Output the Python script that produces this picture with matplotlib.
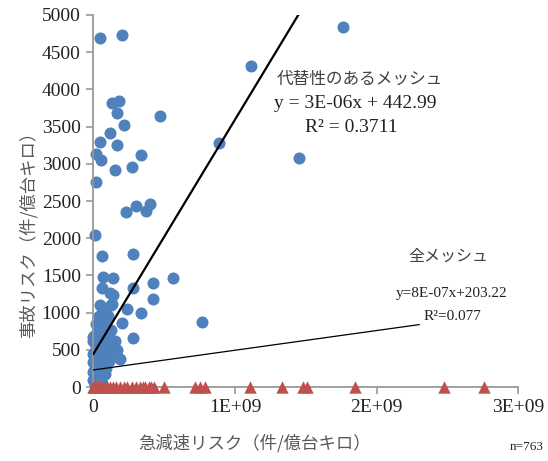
import matplotlib.pyplot as plt
import numpy as np

# blue: meshes with an alternative route (x in units of 1e9)
blue_x = [0.05, 0.20, 1.76, 1.11, 0.89, 1.45, 0.47, 0.134, 0.183, 0.169, 0.219, 0.118,
          0.047, 0.019, 0.054, 0.165, 0.155, 0.275, 0.337, 0.019, 0.23, 0.30, 0.37, 0.40,
          0.01, 0.06, 0.28, 0.07, 0.14, 0.061, 0.118, 0.28, 0.42, 0.56, 0.42, 0.77, 0.34,
          0.28, 0.20, 0.24, 0.14, 0.132, 0.047, 0.07, 0.054, 0.106, 0.125, 0.0, 0.165,
          0.19, 0.148, 0.078, 0.035, 0.07, 0.125,
          0.00, 0.01, 0.02, 0.03, 0.04, 0.05, 0.06, 0.07, 0.08, 0.03, 0.01, 0.04, 0.06,
          0.08, 0.10, 0.11, 0.09, 0.02, 0.05, 0.07, 0.10, 0.12, 0.00, 0.03, 0.06, 0.09,
          0.01, 0.04, 0.07, 0.02, 0.05, 0.08, 0.00, 0.03, 0.06, 0.01, 0.04, 0.09, 0.11,
          0.13, 0.12, 0.09, 0.15, 0.10, 0.06, 0.02, 0.04, 0.08,
          0.00, 0.02, 0.04, 0.06, 0.01, 0.03, 0.05, 0.00, 0.02]
blue_y = [4690, 4730, 4840, 4320, 3283, 3078, 3640, 3813, 3848, 3687, 3522, 3418,
          3297, 3136, 3051, 3248, 2912, 2961, 3118, 2751, 2350, 2430, 2370, 2460,
          2040, 1760, 1790, 1480, 1460, 1326, 1268, 1330, 1400, 1460, 1180, 875, 995,
          654, 856, 1048, 1230, 1115, 1100, 1035, 878, 954, 766, 675, 497,
          372, 475, 430, 699, 766, 1100,
          620, 700, 560, 640, 720, 600, 680, 560, 620, 500, 450, 420, 470,
          500, 540, 600, 430, 380, 350, 390, 420, 470, 330, 300, 280, 330,
          250, 220, 200, 160, 130, 170, 100, 80, 60, 30, 20, 250, 350,
          560, 650, 720, 620, 780, 800, 850, 950, 870,
          450, 520, 300, 180, 140, 420, 240, 200, 60]

# red: meshes without alternative route (all zero accident risk)
red_x = [0.0, 0.005, 0.012, 0.02, 0.03, 0.045, 0.06, 0.083, 0.1, 0.12, 0.14, 0.16,
         0.19, 0.22, 0.24, 0.27, 0.30, 0.33, 0.35, 0.365, 0.39, 0.41, 0.43, 0.50,
         0.72, 0.75, 0.79, 1.106, 1.334, 1.48, 1.51, 1.85, 2.475, 2.755]
red_y = [0] * len(red_x)

xticks = [0, 1e9, 2e9, 3e9]
xtick_labels = ['0', '1E+09', '2E+09', '3E+09']
yticks = list(range(0, 5001, 500))

# trend lines as drawn in the picture
alt_slope, alt_icpt = 3.15e-6, 443
all_slope, all_icpt = 2.65e-7, 229

W, H = 548, 461
fig = plt.figure(figsize=(W / 100, H / 100), dpi=100)
ax = fig.add_axes([93.3 / W, 1 - 387 / H, (518.3 - 93.3) / W, (387 - 15) / H])

bx = np.array(blue_x) * 1e9
ax.scatter(bx, blue_y, s=75, color='#4F81BD', linewidths=0, zorder=2, clip_on=False)
ax.scatter(np.array(red_x) * 1e9, red_y, s=80, marker='^', color='#C0504D',
           linewidths=0, zorder=3, clip_on=False)

lx = np.array([0, bx.max()])
ax.plot(lx, alt_slope * lx + alt_icpt, color='black', lw=1.6, zorder=4)
lx2 = np.array([0, 2.3e9])
ax.plot(lx2, all_slope * lx2 + all_icpt, color='black', lw=0.9, zorder=4)

ax.set_xlim(0, 3e9)
ax.set_ylim(0, 5000)
ax.set_xticks(xticks)
ax.set_xticklabels(xtick_labels)
ax.set_yticks(yticks)
for s in ['top', 'right']:
    ax.spines[s].set_visible(False)
for s in ['left', 'bottom']:
    ax.spines[s].set_color('#999999')
    ax.spines[s].set_linewidth(1.3)
ax.tick_params(direction='out', length=5, width=1.2, color='#999999',
               labelsize=14, labelcolor='#222222', pad=4)
for lab in ax.get_xticklabels() + ax.get_yticklabels():
    lab.set_fontfamily('Liberation Serif')

jp = ['Noto Sans CJK JP', 'DejaVu Sans']
serif = 'Liberation Serif'
fig.text(28 / W, 1 - 230 / H, '事故リスク（件/億台キロ）', rotation=90, ha='center',
         va='center', family=jp, fontsize=12.5, color='#595959')
fig.text(255 / W, 1 - 443 / H, '急減速リスク（件/億台キロ）', ha='center', va='center',
         family=jp, fontsize=12.5, color='#595959')
fig.text(527 / W, 1 - 447 / H, 'n=763', ha='center', va='center', family=serif,
         fontsize=9.5, color='#222222')

fig.text(360 / W, 1 - 79 / H, '代替性のあるメッシュ', ha='center', va='center',
         family=jp, fontsize=12, color='#404040')
fig.text(355 / W, 1 - 104 / H, 'y = 3E-06x + 442.99', ha='center', va='center',
         family=serif, fontsize=14, color='#222222')
fig.text(351 / W, 1 - 127 / H, 'R² = 0.3711', ha='center', va='center',
         family=serif, fontsize=14, color='#222222')

fig.text(448 / W, 1 - 256 / H, '全メッシュ', ha='center', va='center',
         family=jp, fontsize=11.5, color='#404040')
fig.text(452 / W, 1 - 294 / H, 'y=8E-07x+203.22', ha='center', va='center',
         family=serif, fontsize=11, color='#222222')
fig.text(452 / W, 1 - 316 / H, 'R²=0.077', ha='center', va='center',
         family=serif, fontsize=11, color='#222222')

fig.savefig('out.png', dpi=100)
